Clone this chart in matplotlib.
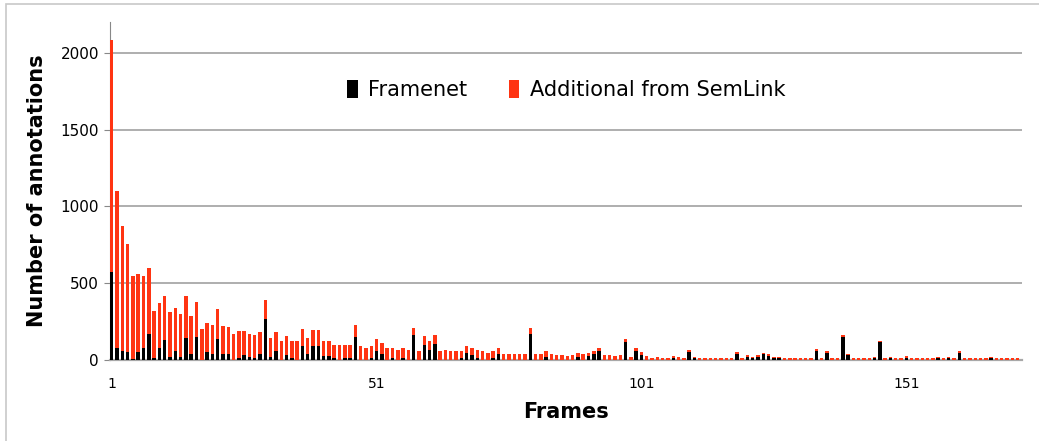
import matplotlib
matplotlib.use('Agg')
import matplotlib.pyplot as plt
import matplotlib.patches as mpatches
import numpy as np

# ── data ──────────────────────────────────────────────────────────────────────
totals = [
    2080, 1100, 870, 755, 545, 560, 545, 600, 320, 370,
    415, 310, 335, 300, 415, 285, 380, 200, 240, 230,
    330, 220, 215, 170, 185, 185, 170, 160, 180, 390,
    140, 180, 125, 155, 120, 120, 200, 145, 195, 195,
    120, 120, 100, 95, 100, 95, 230, 90, 80, 90,
    135, 110, 80, 75, 65, 75, 65, 210, 55, 155,
    120, 160, 55, 65, 55, 55, 60, 90, 80, 65,
    55, 45, 55, 80, 40, 40, 40, 40, 40, 205,
    40, 35, 55, 40, 30, 30, 25, 30, 45, 35,
    45, 55, 80, 30, 30, 25, 30, 135, 20, 75,
    50, 25, 15, 20, 15, 10, 25, 20, 10, 65,
    20, 15, 15, 15, 15, 15, 15, 15, 50, 15,
    30, 20, 30, 45, 35, 20, 20, 15, 10, 10,
    10, 10, 10, 70, 15, 55, 15, 15, 160, 40,
    15, 15, 15, 15, 20, 125, 10, 20, 15, 15,
    25, 10, 10, 10, 10, 10, 20, 10, 20, 15,
    55, 10, 10, 10, 10, 10, 20, 10, 10, 10,
    10, 10,
]
framenet = [
    570, 80, 60, 50, 5, 50, 80, 170, 10, 80,
    130, 20, 55, 20, 140, 40, 150, 0, 50, 40,
    135, 40, 40, 0, 10, 30, 20, 10, 40, 265,
    20, 55, 0, 30, 10, 0, 90, 40, 90, 90,
    25, 25, 10, 0, 10, 10, 150, 0, 0, 10,
    55, 35, 0, 10, 0, 10, 0, 165, 0, 100,
    65, 105, 0, 0, 0, 0, 10, 45, 30, 15,
    0, 0, 10, 35, 0, 0, 0, 0, 0, 170,
    0, 0, 20, 0, 0, 0, 0, 0, 20, 0,
    25, 40, 55, 0, 0, 0, 0, 115, 0, 55,
    30, 0, 0, 0, 0, 0, 10, 0, 0, 50,
    10, 0, 0, 0, 0, 0, 0, 0, 35, 0,
    20, 10, 20, 35, 25, 10, 10, 0, 0, 0,
    0, 0, 0, 60, 0, 45, 0, 0, 150, 30,
    0, 0, 0, 0, 10, 115, 0, 15, 0, 0,
    15, 0, 0, 0, 0, 0, 10, 0, 10, 0,
    45, 0, 0, 0, 0, 0, 10, 0, 0, 0,
    0, 0,
]
frames = np.arange(1, len(totals) + 1)
additional = np.array(totals) - np.array(framenet)
y_ticks = [0, 500, 1000, 1500, 2000]
x_ticks = [1, 51, 101, 151]

C_FN = '#000000'
C_ADD = '#FF3412'
GRID = '#A8A8A8'

fig = plt.figure(figsize=(10.39, 4.41), dpi=100)
fig.patch.set_facecolor('white')
ax = fig.add_axes([0.106, 0.184, 0.878, 0.766])

ax.bar(frames, framenet, width=0.65, color=C_FN, zorder=3)
ax.bar(frames, additional, width=0.65, bottom=framenet, color=C_ADD, zorder=3)

ax.set_xlim(0.7, 172.9)
ax.set_ylim(0, 2200)
ax.set_yticks(y_ticks)
ax.set_xticks(x_ticks)
ax.yaxis.grid(True, color=GRID, lw=1.3, zorder=0)
for s in ['top', 'right']:
    ax.spines[s].set_visible(False)
ax.spines['left'].set_color('#888888')
ax.spines['bottom'].set_color(GRID)
ax.spines['bottom'].set_linewidth(1.6)
ax.tick_params(axis='y', length=4, color='#888888', labelsize=11, pad=4)
ax.tick_params(axis='x', length=0, labelsize=10, pad=12)

ax.set_xlabel('Frames', fontsize=15, fontweight='bold', labelpad=8)
ax.set_ylabel('Number of annotations', fontsize=15, fontweight='bold', labelpad=10)

ax.legend(handles=[
    mpatches.Patch(facecolor=C_FN, label='Framenet'),
    mpatches.Patch(facecolor=C_ADD, label='Additional from SemLink'),
], loc='upper center', bbox_to_anchor=(0.50, 0.885), ncol=2, frameon=False,
   fontsize=15, handlelength=0.5, handleheight=1.0, handletextpad=0.5,
   columnspacing=2.0)

# light border around the whole chart
fig.add_artist(mpatches.Rectangle((0.006, -0.01), 1.2, 1.0, transform=fig.transFigure,
                                  fill=False, edgecolor='#C8C8C8', lw=1.2))

fig.savefig('out.png', dpi=100, facecolor='white')
plt.close(fig)
